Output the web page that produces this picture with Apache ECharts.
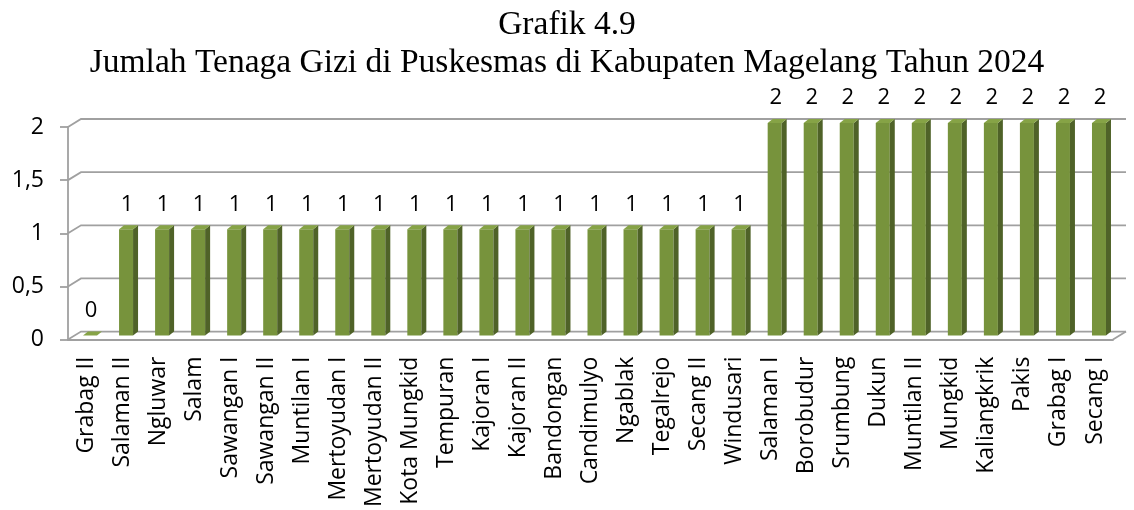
<!DOCTYPE html>
<html>
<head>
<meta charset="utf-8">
<script src="https://cdn.jsdelivr.net/npm/echarts@6/dist/echarts.min.js"></script>
<style>
  html, body { margin: 0; padding: 0; background: #fff; }
  #main { width: 1134px; height: 510px; }
</style>
</head>
<body>
<div id="main"></div>
<script>
// data
var categories = ["Grabag II", "Salaman II", "Ngluwar", "Salam", "Sawangan I", "Sawangan II",
  "Muntilan I", "Mertoyudan I", "Mertoyudan II", "Kota Mungkid", "Tempuran", "Kajoran I",
  "Kajoran II", "Bandongan", "Candimulyo", "Ngablak", "Tegalrejo", "Secang II", "Windusari",
  "Salaman I", "Borobudur", "Srumbung", "Dukun", "Muntilan II", "Mungkid", "Kaliangkrik",
  "Pakis", "Grabag I", "Secang I"];
var values = [0, 1, 1, 1, 1, 1, 1, 1, 1, 1, 1, 1, 1, 1, 1, 1, 1, 1, 1,
  2, 2, 2, 2, 2, 2, 2, 2, 2, 2];
var yTicks = [0, 0.5, 1, 1.5, 2];

var titleText = "Grafik 4.9\nJumlah Tenaga Gizi di Puskesmas di Kabupaten Magelang Tahun 2024";

// fake 3d look
var DEPTH_X = 13, DEPTH_Y = -8;
var gridColor = "#a0a0a0";

function wallItem(params, api) {
  var cs = params.coordSys;
  var v = api.value(1);
  var y = api.coord([0, v])[1];
  var left = cs.x, right = cs.x + cs.width;
  var kids = [{
    type: "polyline",
    shape: { points: [[left, y], [left + DEPTH_X, y + DEPTH_Y], [right + DEPTH_X, y + DEPTH_Y]] },
    style: { stroke: gridColor, lineWidth: 1.8, fill: null }
  }];
  if (v === 0) {
    kids.push({
      type: "line",
      shape: { x1: right, y1: y, x2: right + DEPTH_X, y2: y + DEPTH_Y },
      style: { stroke: gridColor, lineWidth: 1.8 }
    });
  }
  return { type: "group", children: kids };
}

function barItem(params, api) {
  var i = api.value(0), v = api.value(1);
  var base = api.coord([i, 0]);
  var top = api.coord([i, v]);
  var w = 14, ox = 4, oy = -4, dx = 5, dy = -4;
  var x0 = base[0] - w / 2 + ox, x1 = x0 + w;
  var yb = base[1] + oy, yt = top[1] + oy;
  return {
    type: "group",
    children: [
      { type: "rect", shape: { x: x0, y: yt, width: w, height: yb - yt }, style: { fill: "#77933c" } },
      { type: "polygon", shape: { points: [[x1, yb], [x1 + dx, yb + dy], [x1 + dx, yt + dy], [x1, yt]] }, style: { fill: "#4f6228" } },
      { type: "polygon", shape: { points: [[x0, yt], [x1, yt], [x1 + dx, yt + dy], [x0 + dx, yt + dy]] }, style: { fill: "#86a346" } },
      { type: "text", style: { x: x0 + w / 2 + 1, y: yt - 25, text: String(v), textAlign: "center", textVerticalAlign: "middle",
        fontFamily: "Open Sans", fontSize: 22, fill: "#000" } }
    ]
  };
}

var chart = echarts.init(document.getElementById("main"));
var option = {
  animation: false,
  title: {
    text: titleText,
    left: "center",
    top: 1,
    textStyle: { fontFamily: "Liberation Serif", fontSize: 33.5, fontWeight: "normal", color: "#000", lineHeight: 38 }
  },
  grid: { left: 68, right: 21, top: 127, bottom: 169 },
  xAxis: {
    type: "category",
    data: categories,
    axisLine: { lineStyle: { color: gridColor, width: 1.8 } },
    axisTick: { length: 6, lineStyle: { color: gridColor, width: 1.8 } },
    axisLabel: { rotate: 90, margin: 17, interval: 0, fontFamily: "Open Sans", fontSize: 23, color: "#000" },
    splitLine: { show: false }
  },
  yAxis: {
    type: "value",
    min: 0,
    max: 2,
    interval: 0.5,
    axisLine: { show: true, lineStyle: { color: gridColor, width: 1.8 } },
    axisTick: { show: true, length: 8, lineStyle: { color: gridColor, width: 1.8 } },
    axisLabel: {
      margin: 24, fontFamily: "Open Sans", fontSize: 23, color: "#000",
      formatter: function (v) { return String(v).replace(".", ","); }
    },
    splitLine: { show: false }
  },
  series: [
    {
      type: "custom",
      z: 1,
      renderItem: wallItem,
      data: yTicks.map(function (t) { return [0, t]; }),
      encode: { x: 0, y: 1 },
      silent: true
    },
    {
      type: "custom",
      z: 3,
      renderItem: barItem,
      data: values.map(function (v, i) { return [i, v]; }),
      encode: { x: 0, y: 1 }
    }
  ]
};
chart.setOption(option);
</script>
</body>
</html>
